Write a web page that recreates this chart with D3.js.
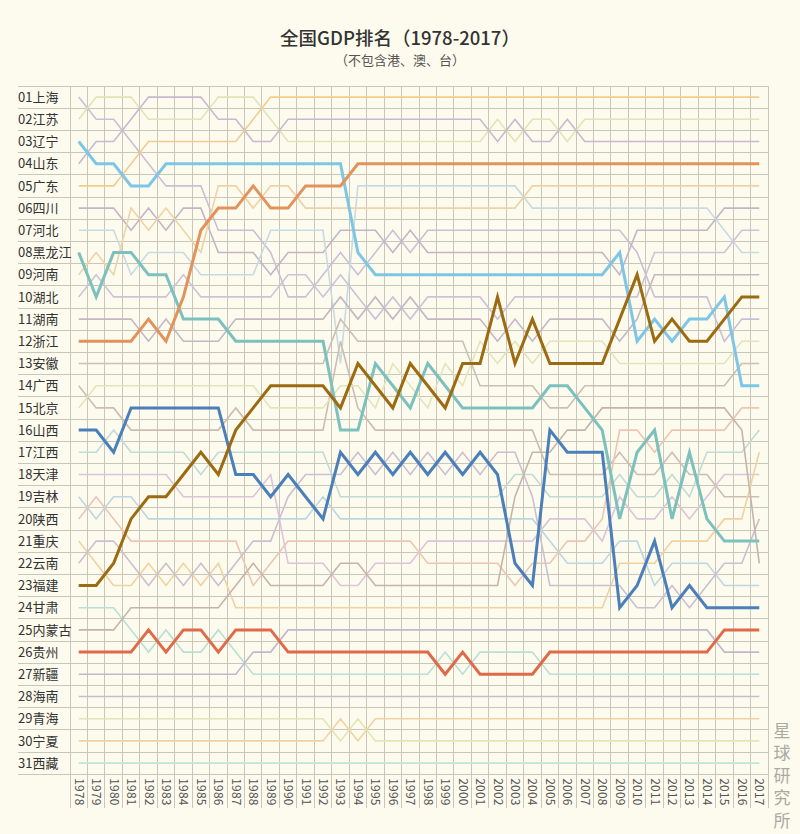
<!DOCTYPE html>
<html>
<head>
<meta charset="utf-8">
<script src="https://cdn.jsdelivr.net/npm/d3@7"></script>
<style>
  html, body { margin: 0; padding: 0; background: #fdfbee; }
  svg { display: block; font-family: "Noto Sans CJK SC", "Noto Sans", sans-serif; }
</style>
</head>
<body>
<svg id="chart" width="800" height="834"></svg>
<script>
// provinces in 1978 order (left labels)
var provinces = ["上海","江苏","辽宁","山东","广东","四川","河北","黑龙江","河南","湖北","湖南","浙江","安徽","广西","北京","山西","江西","天津","吉林","陕西","重庆","云南","福建","甘肃","内蒙古","贵州","新疆","海南","青海","宁夏","西藏"];
var years = d3.range(1978, 2018);

// ranking order per year, rank 1 first
var r1978 = ["上海","江苏","辽宁","山东","广东","四川","河北","黑龙江","河南","湖北","湖南","浙江","安徽","广西","北京","山西","江西","天津","吉林","陕西","重庆","云南","福建","甘肃","内蒙古","贵州","新疆","海南","青海","宁夏","西藏"];
var r1979 = ["江苏","上海","山东","辽宁","广东","四川","河北","河南","湖北","黑龙江","湖南","浙江","安徽","北京","广西","山西","江西","天津","陕西","吉林","云南","重庆","福建","甘肃","内蒙古","贵州","新疆","海南","青海","宁夏","西藏"];
var r1980 = ["江苏","上海","山东","辽宁","广东","四川","河北","黑龙江","河南","湖北","湖南","浙江","安徽","北京","广西","江西","山西","天津","吉林","陕西","云南","福建","重庆","甘肃","内蒙古","贵州","新疆","海南","青海","宁夏","西藏"];
var r1981 = ["江苏","山东","上海","广东","辽宁","河南","四川","黑龙江","河北","湖北","湖南","浙江","安徽","北京","山西","广西","江西","天津","吉林","福建","陕西","云南","重庆","内蒙古","甘肃","贵州","新疆","海南","青海","宁夏","西藏"];
var r1982 = ["山东","江苏","广东","上海","辽宁","四川","河南","河北","黑龙江","湖北","浙江","湖南","安徽","北京","山西","广西","江西","天津","福建","吉林","陕西","重庆","云南","内蒙古","贵州","甘肃","新疆","海南","青海","宁夏","西藏"];
var r1983 = ["山东","江苏","广东","辽宁","上海","河南","四川","河北","黑龙江","湖北","湖南","浙江","安徽","北京","山西","广西","江西","天津","福建","吉林","陕西","云南","重庆","内蒙古","甘肃","贵州","新疆","海南","青海","宁夏","西藏"];
var r1984 = ["山东","江苏","广东","辽宁","上海","四川","河南","河北","湖北","浙江","黑龙江","湖南","安徽","北京","山西","广西","江西","福建","天津","吉林","陕西","重庆","云南","内蒙古","贵州","甘肃","新疆","海南","青海","宁夏","西藏"];
var r1985 = ["山东","江苏","广东","辽宁","上海","四川","浙江","河南","河北","湖北","黑龙江","湖南","安徽","北京","山西","广西","福建","江西","天津","吉林","陕西","云南","重庆","内蒙古","贵州","甘肃","新疆","海南","青海","宁夏","西藏"];
var r1986 = ["江苏","山东","广东","辽宁","河南","浙江","上海","四川","河北","湖北","黑龙江","湖南","安徽","北京","山西","广西","江西","福建","天津","吉林","陕西","重庆","云南","内蒙古","甘肃","贵州","新疆","海南","青海","宁夏","西藏"];
var r1987 = ["江苏","山东","广东","辽宁","河南","浙江","上海","四川","河北","湖北","湖南","黑龙江","安徽","北京","广西","福建","江西","山西","天津","吉林","陕西","云南","内蒙古","重庆","贵州","甘肃","新疆","海南","青海","宁夏","西藏"];
var r1988 = ["江苏","广东","山东","辽宁","浙江","河南","上海","四川","河北","湖北","湖南","黑龙江","安徽","北京","福建","广西","江西","山西","天津","吉林","云南","内蒙古","陕西","重庆","贵州","新疆","甘肃","海南","青海","宁夏","西藏"];
var r1989 = ["广东","江苏","山东","辽宁","河南","浙江","河北","上海","四川","湖北","湖南","黑龙江","安徽","福建","北京","广西","江西","天津","山西","吉林","云南","陕西","内蒙古","重庆","贵州","新疆","甘肃","海南","青海","宁夏","西藏"];
var r1990 = ["广东","山东","江苏","辽宁","河南","浙江","河北","四川","湖北","上海","湖南","黑龙江","安徽","福建","北京","广西","江西","山西","云南","吉林","陕西","天津","内蒙古","重庆","新疆","贵州","甘肃","海南","青海","宁夏","西藏"];
var r1991 = ["广东","山东","江苏","辽宁","浙江","河南","河北","四川","湖北","上海","湖南","黑龙江","安徽","福建","北京","广西","江西","云南","山西","吉林","陕西","天津","内蒙古","重庆","新疆","贵州","甘肃","海南","青海","宁夏","西藏"];
var r1992 = ["广东","山东","江苏","辽宁","浙江","河南","河北","四川","上海","湖北","湖南","黑龙江","安徽","福建","北京","广西","江西","云南","吉林","山西","陕西","天津","内蒙古","重庆","新疆","贵州","甘肃","海南","青海","宁夏","西藏"];
var r1993 = ["广东","山东","江苏","辽宁","浙江","河南","四川","上海","湖北","湖南","安徽","广西","河北","北京","福建","黑龙江","山西","云南","江西","吉林","陕西","内蒙古","天津","重庆","新疆","贵州","甘肃","海南","宁夏","青海","西藏"];
var r1994 = ["广东","山东","江苏","浙江","河北","河南","四川","辽宁","上海","湖北","湖南","安徽","福建","北京","广西","黑龙江","云南","山西","江西","吉林","陕西","内蒙古","天津","重庆","新疆","贵州","甘肃","海南","青海","宁夏","西藏"];
var r1995 = ["广东","山东","江苏","浙江","河北","河南","四川","上海","辽宁","湖南","湖北","安徽","黑龙江","福建","北京","广西","山西","云南","江西","吉林","陕西","天津","内蒙古","重庆","新疆","贵州","甘肃","海南","宁夏","青海","西藏"];
var r1996 = ["广东","山东","江苏","浙江","河北","河南","上海","四川","辽宁","湖北","湖南","安徽","北京","黑龙江","福建","广西","云南","山西","江西","吉林","陕西","天津","内蒙古","重庆","新疆","贵州","甘肃","海南","宁夏","青海","西藏"];
var r1997 = ["广东","山东","江苏","浙江","河北","河南","四川","上海","辽宁","湖南","湖北","安徽","福建","北京","黑龙江","广西","山西","云南","江西","吉林","陕西","天津","内蒙古","重庆","新疆","贵州","甘肃","海南","宁夏","青海","西藏"];
var r1998 = ["广东","山东","江苏","浙江","河北","河南","上海","四川","辽宁","湖北","湖南","安徽","黑龙江","福建","北京","广西","云南","山西","江西","吉林","天津","陕西","内蒙古","重庆","新疆","贵州","甘肃","海南","宁夏","青海","西藏"];
var r1999 = ["广东","山东","江苏","浙江","河北","河南","上海","四川","辽宁","湖北","湖南","安徽","北京","黑龙江","福建","广西","山西","云南","江西","吉林","天津","陕西","内蒙古","重庆","新疆","甘肃","贵州","海南","宁夏","青海","西藏"];
var r2000 = ["广东","山东","江苏","浙江","河北","河南","上海","四川","辽宁","湖北","湖南","安徽","福建","北京","黑龙江","广西","云南","山西","江西","吉林","天津","陕西","内蒙古","重庆","新疆","贵州","甘肃","海南","宁夏","青海","西藏"];
var r2001 = ["广东","山东","江苏","浙江","河北","河南","上海","四川","辽宁","湖北","湖南","北京","福建","安徽","黑龙江","广西","山西","云南","江西","吉林","天津","陕西","内蒙古","重庆","新疆","甘肃","贵州","海南","宁夏","青海","西藏"];
var r2002 = ["广东","江苏","山东","浙江","河北","河南","上海","四川","辽宁","福建","湖北","湖南","北京","安徽","黑龙江","广西","云南","山西","江西","吉林","天津","陕西","内蒙古","重庆","新疆","甘肃","贵州","海南","宁夏","青海","西藏"];
var r2003 = ["广东","山东","江苏","浙江","河北","河南","上海","四川","辽宁","湖北","湖南","北京","福建","安徽","黑龙江","广西","云南","江西","内蒙古","吉林","天津","山西","陕西","重庆","新疆","甘肃","贵州","海南","宁夏","青海","西藏"];
var r2004 = ["广东","江苏","山东","浙江","河南","河北","上海","四川","辽宁","湖北","福建","湖南","北京","安徽","黑龙江","广西","内蒙古","江西","云南","吉林","天津","陕西","山西","重庆","新疆","甘肃","贵州","海南","宁夏","青海","西藏"];
var r2005 = ["广东","江苏","山东","浙江","河南","河北","上海","四川","辽宁","湖北","湖南","北京","福建","黑龙江","安徽","山西","内蒙古","广西","江西","天津","吉林","陕西","云南","重庆","新疆","贵州","甘肃","海南","宁夏","青海","西藏"];
var r2006 = ["广东","山东","江苏","浙江","河南","河北","上海","四川","辽宁","湖北","湖南","北京","福建","黑龙江","安徽","内蒙古","山西","广西","江西","天津","陕西","吉林","云南","重庆","新疆","贵州","甘肃","海南","宁夏","青海","西藏"];
var r2007 = ["广东","江苏","山东","浙江","河南","河北","上海","四川","辽宁","湖北","湖南","北京","福建","安徽","黑龙江","内蒙古","山西","广西","江西","天津","陕西","吉林","云南","重庆","新疆","贵州","甘肃","海南","宁夏","青海","西藏"];
var r2008 = ["广东","江苏","山东","浙江","河南","河北","上海","四川","辽宁","湖北","湖南","北京","福建","安徽","内蒙古","黑龙江","山西","广西","江西","陕西","天津","吉林","云南","重庆","新疆","贵州","甘肃","海南","宁夏","青海","西藏"];
var r2009 = ["广东","江苏","山东","浙江","河南","河北","上海","辽宁","四川","湖北","福建","湖南","北京","安徽","内蒙古","陕西","广西","江西","天津","黑龙江","吉林","重庆","云南","山西","新疆","贵州","甘肃","海南","宁夏","青海","西藏"];
var r2010 = ["广东","江苏","山东","浙江","河南","河北","四川","上海","福建","湖北","湖南","辽宁","北京","安徽","内蒙古","陕西","黑龙江","广西","江西","天津","吉林","重庆","山西","云南","新疆","贵州","甘肃","海南","宁夏","青海","西藏"];
var r2011 = ["广东","江苏","山东","浙江","河南","河北","四川","湖北","湖南","上海","辽宁","福建","北京","安徽","内蒙古","黑龙江","陕西","广西","江西","天津","山西","重庆","吉林","云南","新疆","贵州","甘肃","海南","宁夏","青海","西藏"];
var r2012 = ["广东","江苏","山东","浙江","河南","河北","四川","湖北","湖南","上海","福建","辽宁","北京","安徽","内蒙古","陕西","广西","江西","天津","黑龙江","重庆","吉林","云南","山西","新疆","贵州","甘肃","海南","宁夏","青海","西藏"];
var r2013 = ["广东","江苏","山东","浙江","河南","河北","四川","湖北","湖南","上海","辽宁","福建","北京","安徽","内蒙古","陕西","黑龙江","广西","江西","天津","重庆","吉林","山西","云南","新疆","贵州","甘肃","海南","宁夏","青海","西藏"];
var r2014 = ["广东","江苏","山东","浙江","河南","河北","四川","湖北","湖南","上海","辽宁","福建","北京","安徽","内蒙古","陕西","江西","广西","天津","黑龙江","重庆","吉林","云南","山西","新疆","贵州","甘肃","海南","宁夏","青海","西藏"];
var r2015 = ["广东","江苏","山东","浙江","河南","四川","河北","湖北","湖南","辽宁","福建","上海","北京","安徽","内蒙古","陕西","江西","天津","广西","重庆","黑龙江","云南","吉林","山西","贵州","新疆","甘肃","海南","宁夏","青海","西藏"];
var r2016 = ["广东","江苏","山东","浙江","河南","四川","湖北","河北","湖南","福建","上海","北京","安徽","辽宁","陕西","内蒙古","江西","天津","广西","重庆","黑龙江","云南","吉林","山西","贵州","新疆","甘肃","海南","宁夏","青海","西藏"];
var r2017 = ["广东","江苏","山东","浙江","河南","四川","湖北","河北","湖南","福建","上海","北京","安徽","辽宁","陕西","江西","重庆","天津","广西","云南","黑龙江","内蒙古","吉林","山西","贵州","新疆","甘肃","海南","宁夏","青海","西藏"];

var orders = [r1978,r1979,r1980,r1981,r1982,r1983,r1984,r1985,r1986,r1987,r1988,r1989,r1990,r1991,r1992,r1993,r1994,r1995,r1996,r1997,r1998,r1999,r2000,r2001,r2002,r2003,r2004,r2005,r2006,r2007,r2008,r2009,r2010,r2011,r2012,r2013,r2014,r2015,r2016,r2017];

// highlighted provinces and their colours
var highlights = {"辽宁": "#7ec6e6", "浙江": "#e2935c", "黑龙江": "#7cc1bd", "福建": "#9c6a10", "山西": "#4a7fba", "贵州": "#df6a49"};
var faintColors = {
  "上海": "#cbbfd6", "江苏": "#e0e4b6", "山东": "#c8b8d0", "广东": "#f3cb8f", "四川": "#c3b5c6",
  "河北": "#c6dbe2", "河南": "#efd3a6", "湖北": "#cdc3d9", "湖南": "#c3b8c4", "安徽": "#c9bfb6",
  "广西": "#ccbdb2", "北京": "#e0e6ba", "江西": "#bfdbd6", "天津": "#dcc4da", "吉林": "#bdd7e1",
  "陕西": "#ebc6b3", "重庆": "#f2d1a0", "云南": "#cbbfd1", "甘肃": "#badfd6", "内蒙古": "#c6b4aa",
  "新疆": "#c3b7cb", "海南": "#c6bccd", "青海": "#e2e6b5", "宁夏": "#f2d2a4", "西藏": "#c2e2dc"
};

var W = 800, H = 834;
var plotLeft = 70, plotRight = 768, plotTop = 86, rowH = 22.2;
var plotBottom = plotTop + rowH * provinces.length;
var yearBottom = 808;

var svg = d3.select("#chart");

svg.append("rect").attr("width", W).attr("height", H).attr("fill", "#fdfbee");

var x = d3.scalePoint().domain(years).range([plotLeft, plotRight]).padding(0.5);
var y = d3.scalePoint().domain(d3.range(1, provinces.length + 1)).range([plotTop, plotBottom]).padding(0.5);
var step = x.step();

// grid
var grid = svg.append("g").attr("stroke", "#cbc6ba").attr("stroke-width", 1).attr("shape-rendering", "crispEdges");
d3.range(years.length + 1).forEach(function (i) {
  grid.append("line")
    .attr("x1", plotLeft + step * i).attr("x2", plotLeft + step * i)
    .attr("y1", plotTop).attr("y2", yearBottom);
});
d3.range(provinces.length + 1).forEach(function (j) {
  grid.append("line")
    .attr("x1", 18).attr("x2", plotRight)
    .attr("y1", plotTop + rowH * j).attr("y2", plotTop + rowH * j);
});

// row labels
svg.append("g").selectAll("text")
  .data(provinces)
  .join("text")
  .attr("x", 18)
  .attr("y", function (d, i) { return y(i + 1); })
  .attr("dy", "0.36em")
  .attr("font-size", 13)
  .attr("fill", "#333")
  .text(function (d, i) { return d3.format("02")(i + 1) + d; });

// year labels, rotated
svg.append("g").selectAll("text")
  .data(years)
  .join("text")
  .attr("transform", function (d) { return "translate(" + (x(d) - 4) + "," + (plotBottom + 4) + ") rotate(90)"; })
  .attr("font-size", 12)
  .attr("fill", "#555")
  .attr("letter-spacing", 0.2)
  .text(function (d) { return d; });

// series: rank of every province per year
var series = provinces.map(function (p) {
  return {
    name: p,
    values: years.map(function (yr, i) {
      var r = orders[i].indexOf(p);
      return { year: yr, rank: r < 0 ? null : r + 1 };
    })
  };
});

var line = d3.line()
  .defined(function (d) { return d.rank != null; })
  .x(function (d) { return x(d.year); })
  .y(function (d) { return y(d.rank); });

var faint = series.filter(function (s) { return !highlights[s.name]; });
var strong = series.filter(function (s) { return highlights[s.name]; });

svg.append("g").selectAll("path")
  .data(faint)
  .join("path")
  .attr("fill", "none")
  .attr("stroke", function (s) { return faintColors[s.name]; })
  .attr("stroke-width", 1.6)
  .attr("d", function (s) { return line(s.values); });

svg.append("g").selectAll("path")
  .data(strong)
  .join("path")
  .attr("fill", "none")
  .attr("stroke", function (s) { return highlights[s.name]; })
  .attr("stroke-width", 3)
  .attr("stroke-linejoin", "miter")
  .attr("d", function (s) { return line(s.values); });

// titles
svg.append("text")
  .attr("x", 400).attr("y", 45)
  .attr("text-anchor", "middle")
  .attr("font-size", 18.5)
  .attr("font-weight", 500)
  .attr("fill", "#333")
  .text("全国GDP排名（1978-2017）");

svg.append("text")
  .attr("x", 400).attr("y", 65)
  .attr("text-anchor", "middle")
  .attr("font-size", 13)
  .attr("fill", "#555")
  .text("（不包含港、澳、台）");

// watermark, vertical
svg.append("text")
  .attr("x", 782).attr("y", 722)
  .style("writing-mode", "vertical-rl")
  .attr("font-size", 17)
  .attr("letter-spacing", 5.5)
  .attr("fill", "#aaaaa3")
  .text("星球研究所");
</script>
</body>
</html>
